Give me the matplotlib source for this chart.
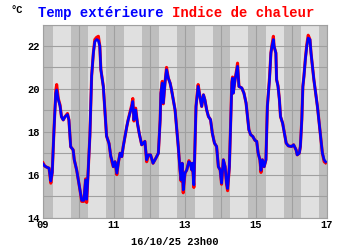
import matplotlib
matplotlib.use("Agg")
import matplotlib.pyplot as plt

# jours (octobre) et temperatures
jours = [9.00, 9.05, 9.10, 9.17, 9.22, 9.26, 9.31, 9.36, 9.385, 9.43, 9.48, 9.52, 9.57, 9.62,
         9.69, 9.73, 9.78, 9.85, 9.88, 9.95, 10.04, 10.09, 10.15, 10.20, 10.23, 10.26, 10.32,
         10.37, 10.42, 10.46, 10.51, 10.56, 10.60, 10.63, 10.70, 10.79, 10.86, 10.91, 10.94,
         10.98, 11.03, 11.08, 11.12, 11.17, 11.22, 11.26, 11.31, 11.36, 11.40, 11.45, 11.50,
         11.53, 11.56, 11.61, 11.66, 11.71, 11.78, 11.83, 11.87, 11.92, 11.97, 12.03, 12.10,
         12.18, 12.25, 12.30, 12.32, 12.36, 12.39, 12.44, 12.48, 12.53, 12.58, 12.62, 12.67,
         12.72, 12.77, 12.81, 12.86, 12.89, 12.92, 12.95, 13.00, 13.05, 13.11, 13.15, 13.19,
         13.21, 13.25, 13.28, 13.31, 13.35, 13.37, 13.42, 13.47, 13.52, 13.56, 13.61, 13.66,
         13.72, 13.77, 13.83, 13.89, 13.94, 13.99, 14.03, 14.08, 14.13, 14.17, 14.20, 14.25,
         14.29, 14.32, 14.34, 14.36, 14.41, 14.46, 14.48, 14.52, 14.60, 14.66, 14.72, 14.77,
         14.80, 14.85, 14.91, 14.97, 15.02, 15.06, 15.11, 15.14, 15.18, 15.23, 15.28, 15.32,
         15.38, 15.42, 15.45, 15.49, 15.51, 15.56, 15.58, 15.62, 15.66, 15.69, 15.75, 15.80,
         15.85, 15.91, 16.00, 16.06, 16.13, 16.16, 16.22, 16.25, 16.29, 16.32, 16.35, 16.39,
         16.43, 16.47, 16.52, 16.55, 16.59, 16.63, 16.68, 16.73, 16.77, 16.82, 16.87, 16.92,
         16.96]

temp = [16.50, 16.40, 16.35, 16.30, 15.70, 16.10, 18.10, 19.80, 19.95, 19.50, 19.20, 18.70, 18.55, 18.70,
        18.80, 18.55, 17.30, 17.15, 16.70, 16.20, 15.30, 14.80, 14.80, 15.75, 14.85, 15.75, 17.80,
        20.60, 21.70, 22.20, 22.30, 22.25, 22.00, 20.90, 20.10, 17.80, 17.45, 16.85, 16.70,
        16.37, 16.60, 16.07, 16.53, 17.00, 16.84, 17.31, 17.78, 18.24, 18.56, 18.87, 19.18,
        19.41, 18.56, 19.02, 18.40, 17.93, 17.39, 17.47, 17.55, 16.69, 16.92, 16.92, 16.53,
        16.77, 17.00, 18.56, 19.80, 20.27, 19.34, 20.35, 20.89, 20.50, 20.27, 19.96, 19.49,
        19.02, 18.09, 17.31, 16.22, 15.75, 16.53, 15.29, 16.07, 16.22, 16.60, 16.53, 16.22,
        16.53, 15.52, 17.31, 19.18, 19.80, 20.11, 19.65, 19.18, 19.72, 19.49, 19.02, 18.71,
        18.56, 17.93, 17.47, 17.31, 16.37, 16.22, 15.60, 16.69, 16.37, 15.60, 15.35, 16.37,
        18.56, 20.27, 20.50, 19.80, 20.43, 20.89, 21.05, 20.11, 20.04, 19.80, 19.34, 18.56,
        18.09, 17.86, 17.78, 17.60, 17.55, 17.00, 16.69, 16.20, 16.69, 16.37, 16.69, 19.18,
        20.43, 21.67, 21.98, 22.30, 21.98, 21.67, 20.43, 20.11, 19.49, 18.71, 18.40, 17.93,
        17.47, 17.34, 17.31, 17.39, 17.15, 16.92, 17.00, 17.31, 18.56, 20.11, 20.58, 21.36,
        21.98, 22.37, 22.30, 21.67, 21.05, 20.43, 19.80, 19.18, 18.56, 17.78, 17.00, 16.69,
        16.60]

indice = [16.55, 16.40, 16.35, 16.30, 15.60, 16.10, 18.10, 19.90, 20.20, 19.55, 19.25, 18.70, 18.55, 18.70,
          18.85, 18.55, 17.30, 17.15, 16.70, 16.20, 15.30, 14.75, 14.75, 15.80, 14.70, 15.75, 17.80,
          20.60, 21.70, 22.30, 22.40, 22.45, 22.00, 20.90, 20.10, 17.80, 17.45, 16.85, 16.60,
          16.37, 16.60, 16.00, 16.53, 17.00, 16.84, 17.31, 17.78, 18.24, 18.56, 18.90, 19.25,
          19.55, 18.50, 19.10, 18.40, 17.93, 17.39, 17.47, 17.55, 16.60, 16.92, 16.92, 16.53,
          16.77, 17.00, 18.56, 19.80, 20.35, 19.30, 20.35, 21.00, 20.50, 20.27, 19.96, 19.49,
          19.02, 18.09, 17.31, 16.20, 15.70, 16.53, 15.15, 16.07, 16.22, 16.65, 16.53, 16.22,
          16.53, 15.40, 17.31, 19.18, 19.90, 20.20, 19.65, 19.18, 19.72, 19.49, 19.02, 18.71,
          18.56, 17.93, 17.47, 17.31, 16.37, 16.22, 15.55, 16.69, 16.37, 15.55, 15.25, 16.37,
          18.56, 20.35, 20.55, 19.80, 20.43, 20.95, 21.20, 20.11, 20.04, 19.80, 19.34, 18.56,
          18.09, 17.86, 17.78, 17.60, 17.55, 17.00, 16.69, 16.10, 16.69, 16.37, 16.69, 19.18,
          20.50, 21.67, 22.05, 22.45, 21.98, 21.67, 20.43, 20.15, 19.49, 18.71, 18.40, 17.93,
          17.47, 17.34, 17.31, 17.39, 17.15, 16.92, 17.00, 17.31, 18.56, 20.11, 20.58, 21.40,
          22.05, 22.50, 22.30, 21.67, 21.05, 20.43, 19.80, 19.18, 18.56, 17.78, 17.00, 16.60,
          16.55]

# lever / coucher du soleil (fraction du jour)
lever = 0.27
coucher = 0.785
jours_ticks = [9, 11, 13, 15, 17]
jours_labels = ['09', '11', '13', '15', '17']

police = ['Liberation Mono', 'DejaVu Sans Mono']

fig = plt.figure(figsize=(3.5, 2.5), dpi=100)
ax = fig.add_axes([43/350, 1 - 217.5/250, 284/350, 193/250])
ax.set_facecolor('#bebebe')

for d in range(9, 17):
    ax.axvspan(d + lever, d + coucher, color='#e0e0e0', lw=0, zorder=0)

ax.set_xlim(9, 17)
ax.set_ylim(14, 23)
ax.set_xticks(jours_ticks)
ax.set_xticklabels(jours_labels)
ax.set_xticks(range(9, 18), minor=True)
ax.set_yticks([14, 16, 18, 20, 22])
ax.set_yticks(range(14, 24), minor=True)
ax.grid(which='both', color='#a0a0a0', lw=0.8, zorder=1)
ax.set_axisbelow(True)
ax.tick_params(which='both', length=0, pad=2, labelsize=7.5)
for lab in ax.get_xticklabels() + ax.get_yticklabels():
    lab.set_family(police)
    lab.set_fontweight('bold')
for s in ax.spines.values():
    s.set_color('#a0a0a0')
    s.set_linewidth(0.8)

ax.plot(jours, indice, color='#ff0000', lw=2.2, zorder=3)
ax.plot(jours, temp, color='#0000ff', lw=1.9, zorder=4)

fig.text(10/350, 1 - 13/250, '°C', family=police, weight='bold', fontsize=7.5, color='black')
fig.text(38/350, 1 - 17/250, 'Temp extérieure', family=police, weight='bold', fontsize=10, color='#0000ff')
fig.text(172/350, 1 - 17/250, 'Indice de chaleur', family=police, weight='bold', fontsize=10, color='#ff0000')
fig.text(175/350, 1 - 245/250, '16/10/25 23h00', family=police, weight='bold', fontsize=7.5,
         color='black', ha='center')

fig.savefig('out.png', dpi=100)
